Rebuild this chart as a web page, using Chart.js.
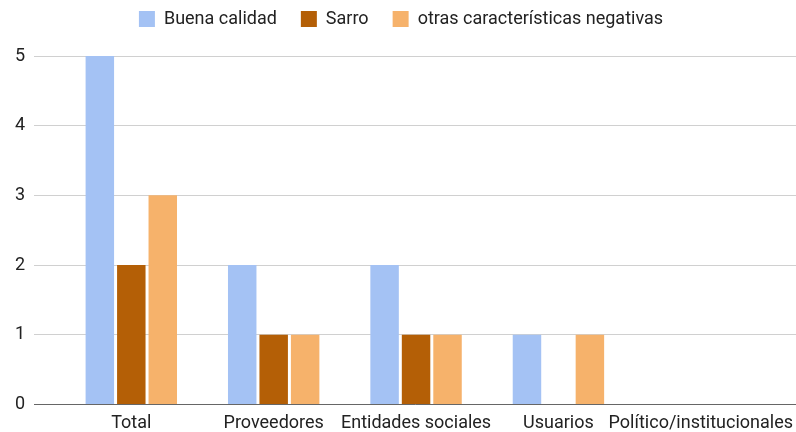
<!DOCTYPE html>
<html>
<head>
<meta charset="utf-8">
<script src="https://cdn.jsdelivr.net/npm/chart.js@4/dist/chart.umd.min.js"></script>
<style>
  html, body { margin: 0; padding: 0; background: #fff; }
  #wrap { width: 796px; height: 432px; }
</style>
</head>
<body>
<div id="wrap"><canvas id="bar-chart-canvas"></canvas></div>
<script>
const categorias = ["Total", "Proveedores", "Entidades sociales", "Usuarios", "Político/institucionales"];
const buenaCalidad = [5, 2, 2, 1, 0];
const sarro = [2, 1, 1, 0, 0];
const otrasNegativas = [3, 1, 1, 1, 0];
const ticksY = [0, 1, 2, 3, 4, 5];

const azul = "#a4c2f4";
const marron = "#b45f06";
const naranja = "#f6b26b";
const fuente = "Roboto, 'Liberation Sans', Arial, sans-serif";

// los grupos de barras no ocupan todo el ancho de la rejilla
const ajusteEjeX = {
    id: "ajusteEjeX",
    beforeInit(chart) {
        const fitOriginal = chart.legend.fit;
        chart.legend.fit = function () {
            fitOriginal.call(this);
            this.height += 18;
        };
    },
    afterLayout(chart) {
        const x = chart.scales.x;
        x._startPixel = x.left + 26;
        x._length = (x.right - x.left) - 26 - 24;
    }
};

Chart.defaults.font.family = fuente;
Chart.defaults.font.size = 18;
Chart.defaults.color = "#333";

function LoadBarChart() {
    new Chart(
        document.getElementById('bar-chart-canvas'),
        {
            type: 'bar',
            data: {
                labels: categorias,
                datasets: [
                    { label: 'Buena calidad', data: buenaCalidad, backgroundColor: azul },
                    { label: 'Sarro', data: sarro, backgroundColor: marron },
                    { label: 'otras características negativas', data: otrasNegativas, backgroundColor: naranja }
                ]
            },
            options: {
                responsive: true,
                maintainAspectRatio: false,
                animation: false,
                layout: { padding: { left: 6, right: 0, top: -14, bottom: -10 } },
                datasets: {
                    bar: { categoryPercentage: 0.663, barPercentage: 0.905, borderWidth: 0 }
                },
                plugins: {
                    tooltip: { enabled: false },
                    legend: {
                        position: 'top',
                        labels: {
                            boxWidth: 16,
                            boxHeight: 16,
                            padding: 24,
                            color: "#222",
                            font: { size: 18 }
                        }
                    }
                },
                scales: {
                    x: {
                        grid: { display: false, drawTicks: false },
                        border: { display: true, color: "#666", width: 1 },
                        ticks: { padding: 8, color: "#222", maxRotation: 0, autoSkip: false },
                        afterFit(s) { s.paddingLeft = 0; s.paddingRight = 0; }
                    },
                    y: {
                        min: 0,
                        max: 5,
                        afterBuildTicks(s) { s.ticks = ticksY.map(v => ({ value: v })); },
                        grid: { color: "#d0d0d0", drawTicks: false },
                        border: { display: false },
                        ticks: { padding: 9, color: "#222" }
                    }
                }
            },
            plugins: [ajusteEjeX]
        }
    );
}

LoadBarChart();
</script>
</body>
</html>
